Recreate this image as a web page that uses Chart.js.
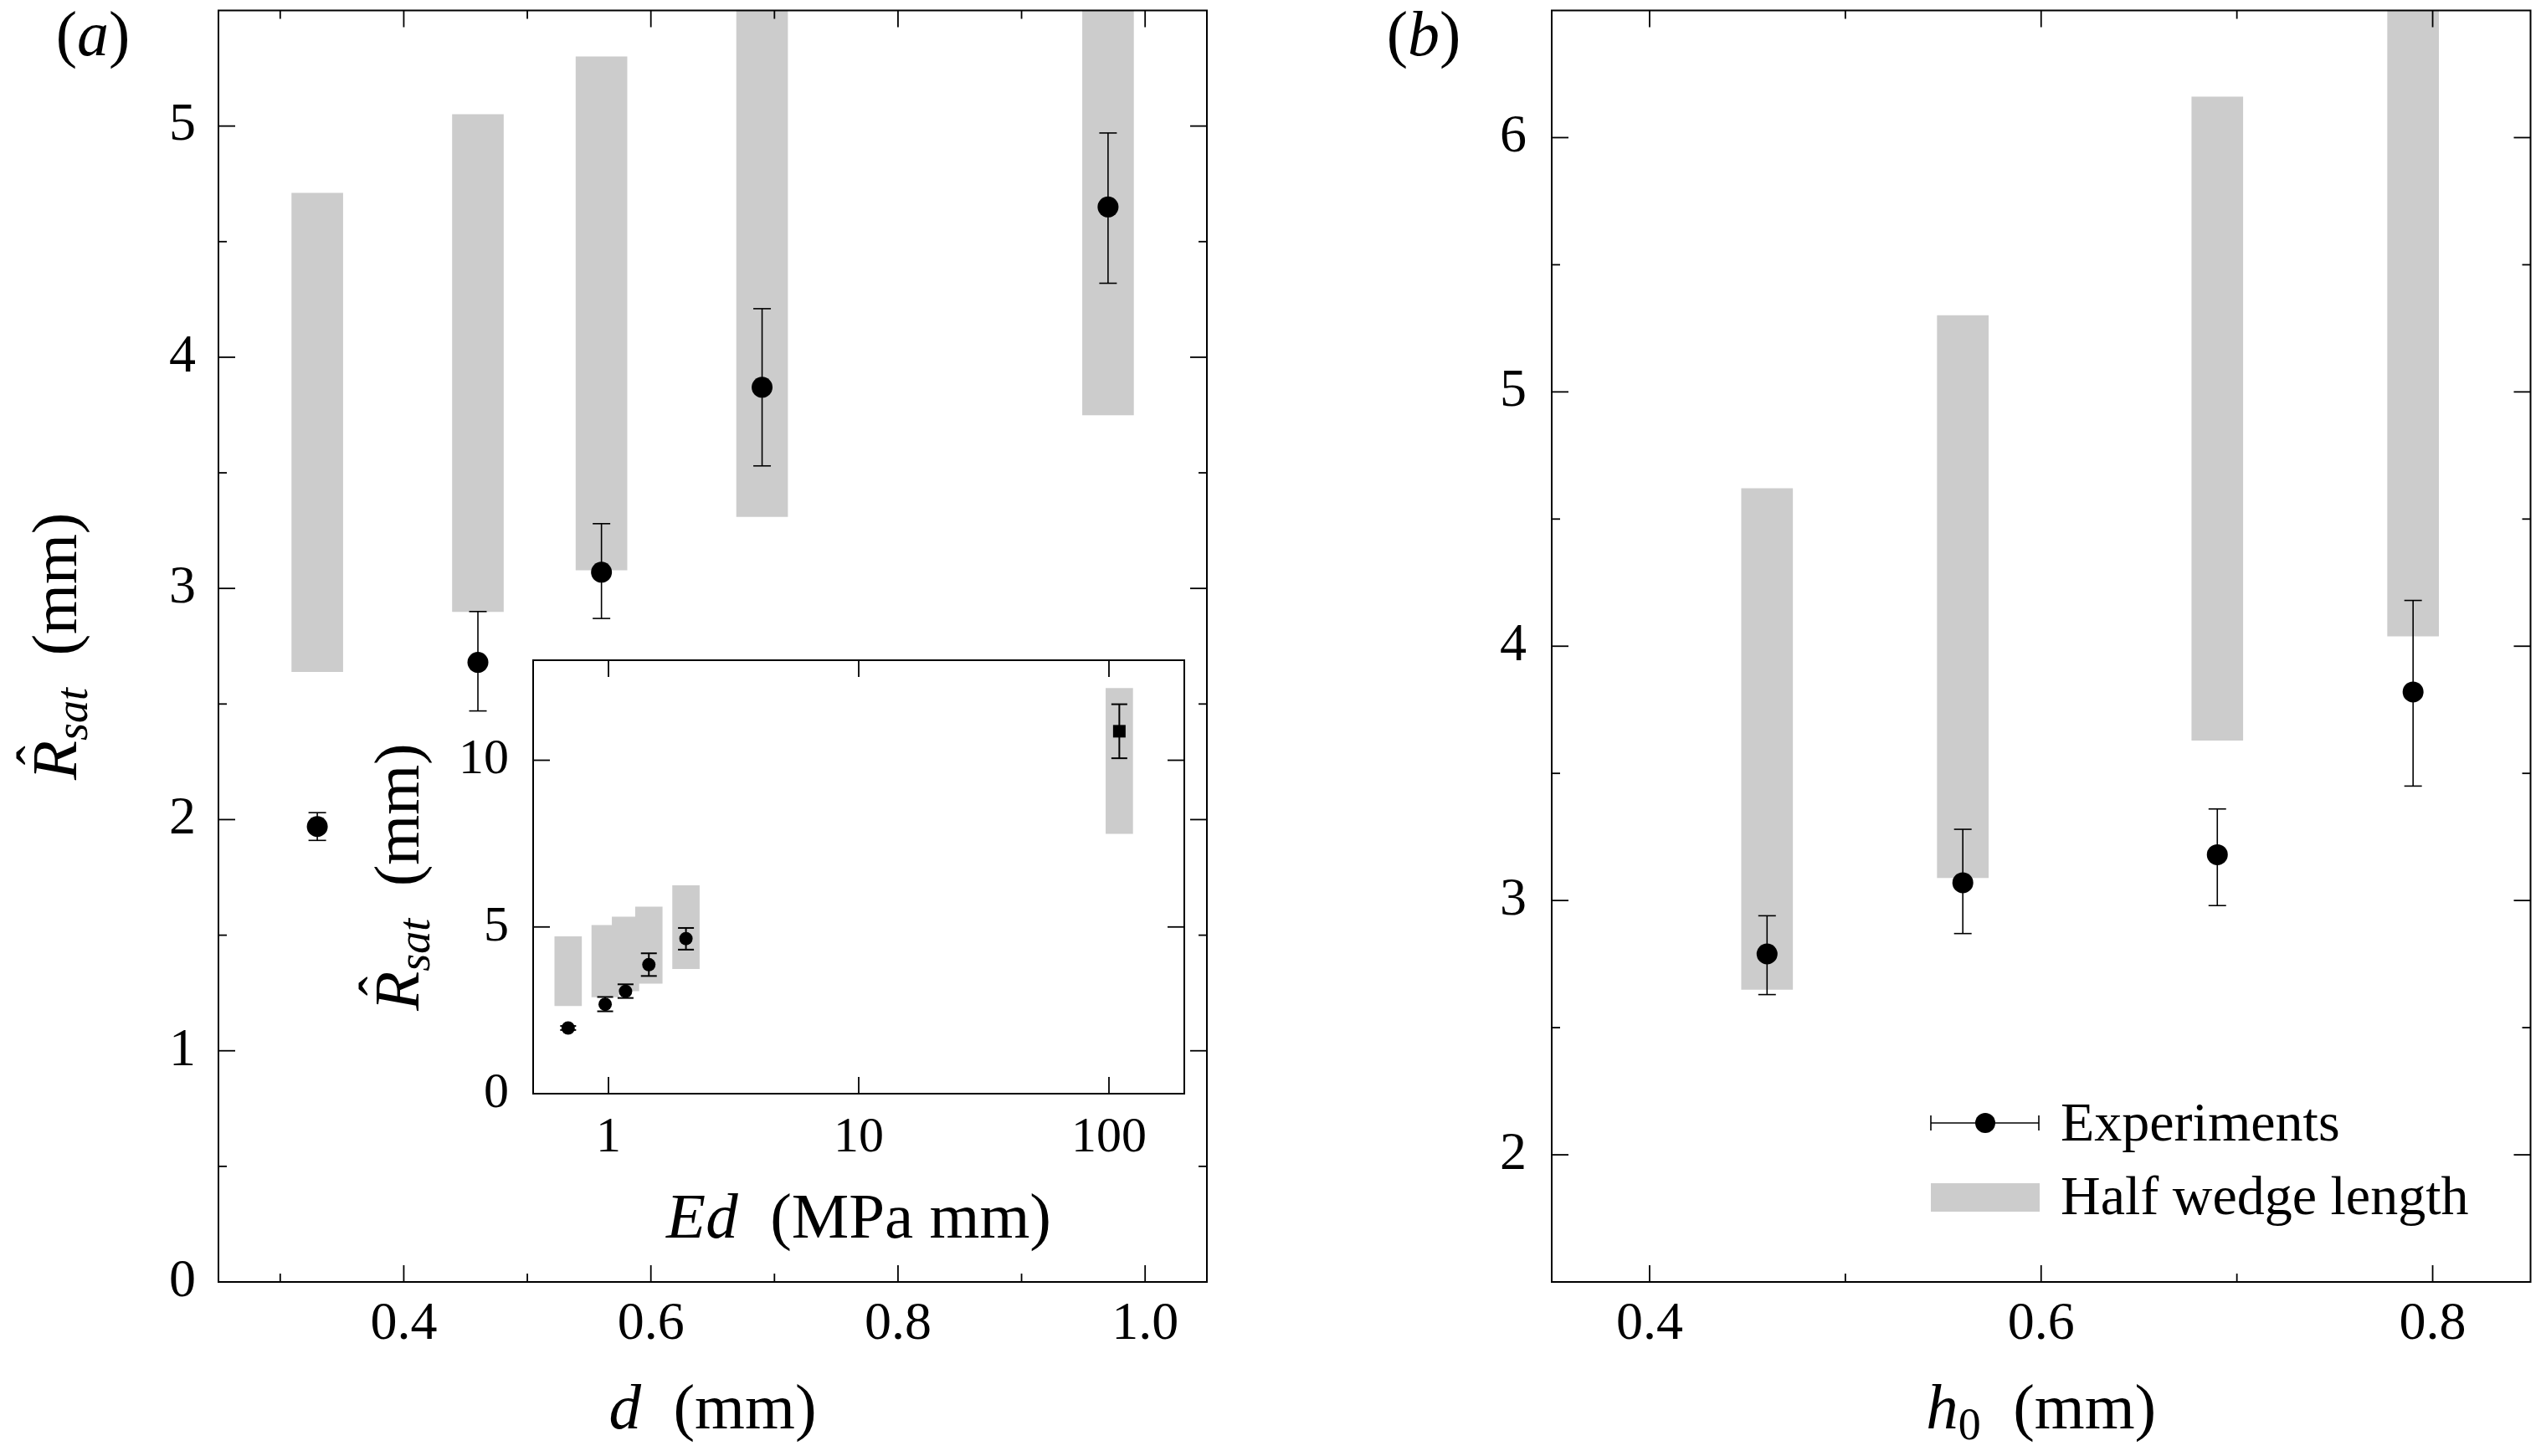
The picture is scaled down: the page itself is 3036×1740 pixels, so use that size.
<!DOCTYPE html>
<html>
<head>
<meta charset="utf-8">
<title>Saturation radius against d and h0</title>
<script src="https://cdn.jsdelivr.net/npm/chart.js@4.4.1/dist/chart.umd.min.js"></script>
<style>
  body { margin: 0; background: #fff; overflow: hidden; }
  #wrap { position: relative; width: 3036px; height: 1740px; background: #fff; }
  canvas { position: absolute; top: 0; }
</style>
</head>
<body>
<div id="wrap">
  <canvas id="chartA" width="1500" height="1740" style="left:0"></canvas>
  <canvas id="chartB" width="1536" height="1740" style="left:1500px"></canvas>
  <canvas id="chartInset" width="1060" height="780" style="left:380px;top:760px"></canvas>
</div>
<script>
// panel (a): R_sat against d
const dValues = [0.33, 0.46, 0.56, 0.69, 0.97];
const rsatA = [1.97, 2.68, 3.07, 3.87, 4.65];
const rsatALow = [1.91, 2.47, 2.87, 3.53, 4.32];
const rsatAHigh = [2.03, 2.90, 3.28, 4.21, 4.97];
const wedgeALow = [2.64, 2.90, 3.08, 3.31, 3.75];
const wedgeAHigh = [4.71, 5.05, 5.30, 5.60, 6.24];

// inset: same data against Ed, plus the stiff sample (square)
const edValues = [0.69, 0.97, 1.17, 1.45, 2.04, 110];
const rsatIn = [1.97, 2.68, 3.07, 3.87, 4.65, 10.87];
const rsatInLow = [1.91, 2.47, 2.87, 3.53, 4.32, 10.06];
const rsatInHigh = [2.03, 2.90, 3.28, 4.21, 4.97, 11.68];
const wedgeInLow = [2.64, 2.90, 3.08, 3.31, 3.75, 7.80];
const wedgeInHigh = [4.71, 5.05, 5.30, 5.60, 6.24, 12.16];

// panel (b): R_sat against h0
const h0Values = [0.46, 0.56, 0.69, 0.79];
const rsatB = [2.79, 3.07, 3.18, 3.82];
const rsatBLow = [2.63, 2.87, 2.98, 3.45];
const rsatBHigh = [2.94, 3.28, 3.36, 4.18];
const wedgeBLow = [2.65, 3.09, 3.63, 4.04];
const wedgeBHigh = [4.62, 5.30, 6.16, 6.90];

// ticks (major ones get a label)
const aXMajor = [0.4, 0.6, 0.8, 1.0];
const aXMinor = [0.3, 0.5, 0.7, 0.9];
const aYMajor = [0, 1, 2, 3, 4, 5];
const aYMinor = [0.5, 1.5, 2.5, 3.5, 4.5];
const inXMajor = [1, 10, 100];
const inYMajor = [0, 5, 10];
const bXMajor = [0.4, 0.6, 0.8];
const bXMinor = [0.5, 0.7];
const bYMajor = [2, 3, 4, 5, 6];
const bYMinor = [2.5, 3.5, 4.5, 5.5];

const SERIF = '"Liberation Serif", "Times New Roman", serif';
const GREY = '#cccccc';

function segFont(s, size) {
  return (s.it ? 'italic ' : '') + (s.sub ? size * 0.7 : size) + 'px ' + SERIF;
}

// draws mixed italic / subscript text centred on x, baseline y
function drawRich(ctx, segs, x, y, size, rot) {
  ctx.save();
  ctx.translate(x, y);
  if (rot) ctx.rotate(rot);
  ctx.fillStyle = '#000';
  ctx.textBaseline = 'alphabetic';
  ctx.textAlign = 'left';
  const widths = segs.map(s => { ctx.font = segFont(s, size); return ctx.measureText(s.t).width; });
  let cx = -widths.reduce((p, q) => p + q, 0) / 2;
  segs.forEach((s, i) => {
    ctx.font = segFont(s, size);
    ctx.fillText(s.t, cx, s.sub ? size * 0.17 : 0);
    if (s.hat) {
      ctx.font = (size * 0.9) + 'px ' + SERIF;
      ctx.textAlign = 'center';
      ctx.fillText('\u02C6', cx + widths[i] * 0.62, -size * 0.3);
      ctx.textAlign = 'left';
    }
    cx += widths[i];
  });
  ctx.restore();
}

function line(ctx, x1, y1, x2, y2) {
  ctx.beginPath();
  ctx.moveTo(x1, y1);
  ctx.lineTo(x2, y2);
  ctx.stroke();
}

function axis(type, min, max, major, minor, fmt, o) {
  return {
    type, min, max,
    offset: false,
    grid: { display: false, drawTicks: false, offset: false },
    border: { display: false },
    ticks: {
      autoSkip: false,
      maxRotation: 0,
      padding: o.pad,
      color: '#000',
      font: { family: SERIF, size: o.size },
      callback: (v) => major.includes(v) ? fmt(v) : ''
    },
    afterBuildTicks: (s) => {
      s.ticks = major.concat(minor).sort((p, q) => p - q).map(v => ({ value: v }));
    },
    afterFit: (s) => {
      if (o.width) s.width = o.width;
      if (o.height) s.height = o.height;
      // labels may stick out of the plot box, the page has room for them
      s.paddingTop = 0; s.paddingBottom = 0;
      s.paddingLeft = 0; s.paddingRight = 0;
    }
  };
}

// box round the plot with inward ticks on all four sides
function framePlugin(t) {
  return {
    id: 'frame',
    beforeDraw(chart) {
      if (!t.fill) return;
      const a = chart.chartArea;
      chart.ctx.save();
      chart.ctx.fillStyle = t.fill;
      chart.ctx.fillRect(a.left, a.top, a.right - a.left, a.bottom - a.top);
      chart.ctx.restore();
    },
    afterDatasetsDraw(chart) {
      const { ctx, chartArea: a, scales: { x, y } } = chart;
      ctx.save();
      ctx.strokeStyle = '#000';
      ctx.lineWidth = 1.8;
      const xt = (vals, len) => vals.forEach(v => {
        const p = x.getPixelForValue(v);
        line(ctx, p, a.bottom, p, a.bottom - len);
        line(ctx, p, a.top, p, a.top + len);
      });
      const yt = (vals, len) => vals.forEach(v => {
        const p = y.getPixelForValue(v);
        line(ctx, a.left, p, a.left + len, p);
        line(ctx, a.right, p, a.right - len, p);
      });
      xt(t.xMajor, 20); xt(t.xMinor || [], 10);
      yt(t.yMajor, 20); yt(t.yMinor || [], 10);
      ctx.lineWidth = 2;
      ctx.strokeRect(a.left, a.top, a.right - a.left, a.bottom - a.top);
      ctx.restore();
    }
  };
}

function errorPlugin(xs, lows, highs, cap, lw) {
  return {
    id: 'errorbars',
    afterDatasetsDraw(chart) {
      const { ctx, scales: { x, y } } = chart;
      ctx.save();
      ctx.strokeStyle = '#000';
      ctx.lineWidth = lw;
      xs.forEach((v, i) => {
        const px = x.getPixelForValue(v);
        const lo = y.getPixelForValue(lows[i]);
        const hi = y.getPixelForValue(highs[i]);
        line(ctx, px, lo, px, hi);
        line(ctx, px - cap, lo, px + cap, lo);
        line(ctx, px - cap, hi, px + cap, hi);
      });
      ctx.restore();
    }
  };
}

function textPlugin(fn) {
  return { id: 'texts', afterDraw(chart) { fn(chart.ctx, chart.chartArea); } };
}

function datasets(xs, ys, lows, highs, thick, radius, styles) {
  return [
    {
      type: 'scatter',
      order: 1,
      data: xs.map((x, i) => ({ x, y: ys[i] })),
      backgroundColor: '#000',
      borderWidth: 0,
      pointRadius: radius,
      pointStyle: styles || 'circle'
    },
    {
      type: 'bar',
      order: 2,
      data: xs.map((x, i) => ({ x, y: [lows[i], highs[i]] })),
      backgroundColor: GREY,
      borderWidth: 0,
      borderSkipped: false,
      barThickness: thick,
      clip: 0
    }
  ];
}

const common = {
  responsive: false,
  animation: false,
  events: [],
  plugins: { legend: { display: false }, tooltip: { enabled: false } }
};

const rsatTitle = [{ t: 'R', it: 1, hat: 1 }, { t: 'sat', it: 1, sub: 1 }, { t: '  (mm)' }];
const oneDec = (v) => v.toFixed(1);

// ---- panel (a)
new Chart(document.getElementById('chartA'), {
  type: 'bar',
  data: { datasets: datasets(dValues, rsatA, wedgeALow, wedgeAHigh, 61, 12.5) },
  options: {
    ...common,
    layout: { padding: { top: 12, right: 58, left: 0, bottom: 0 } },
    scales: {
      x: axis('linear', 0.25, 1.05, aXMajor, aXMinor, oneDec, { pad: 13, size: 64, height: 208 }),
      y: axis('linear', 0, 5.5, aYMajor, aYMinor, String, { pad: 27, size: 64, width: 261 })
    }
  },
  plugins: [
    framePlugin({ xMajor: aXMajor, xMinor: aXMinor, yMajor: aYMajor, yMinor: aYMinor }),
    errorPlugin(dValues, rsatALow, rsatAHigh, 10.5, 1.6),
    textPlugin((ctx, a) => {
      drawRich(ctx, [{ t: 'd', it: 1 }, { t: '  (mm)' }], (a.left + a.right) / 2, a.bottom + 175, 77);
      drawRich(ctx, rsatTitle, a.left - 170, (a.top + a.bottom) / 2, 77, -Math.PI / 2);
      drawRich(ctx, [{ t: '(' }, { t: 'a', it: 1 }, { t: ')' }], 111, 66, 76);
    })
  ]
});

// ---- inset of panel (a), log axis
new Chart(document.getElementById('chartInset'), {
  type: 'bar',
  data: {
    datasets: datasets(edValues, rsatIn, wedgeInLow, wedgeInHigh, 32,
      [8, 8, 8, 8, 8, 10.6], ['circle', 'circle', 'circle', 'circle', 'circle', 'rect'])
  },
  options: {
    ...common,
    layout: { padding: { top: 29, right: 25, left: 0, bottom: 0 } },
    scales: {
      x: axis('logarithmic', 0.5, 200, inXMajor, [], String, { pad: 17, size: 60, height: 233 }),
      y: axis('linear', 0, 13, inYMajor, [], String, { pad: 29, size: 60, width: 257 })
    }
  },
  plugins: [
    framePlugin({ xMajor: inXMajor, yMajor: inYMajor, fill: '#fff' }),
    errorPlugin(edValues, rsatInLow, rsatInHigh, 9.5, 2),
    textPlugin((ctx, a) => {
      drawRich(ctx, [{ t: 'Ed', it: 1 }, { t: '  (MPa mm)' }], (a.left + a.right) / 2, a.bottom + 172, 77);
      drawRich(ctx, rsatTitle, a.left - 137, (a.top + a.bottom) / 2, 77, -Math.PI / 2);
    })
  ]
});

// ---- panel (b)
new Chart(document.getElementById('chartB'), {
  type: 'bar',
  data: { datasets: datasets(h0Values, rsatB, wedgeBLow, wedgeBHigh, 61, 12.5) },
  options: {
    ...common,
    layout: { padding: { top: 12, right: 2, left: 0, bottom: 0 } },
    scales: {
      x: axis('linear', 0.35, 0.85, bXMajor, bXMinor, oneDec, { pad: 13, size: 64, height: 208 }),
      y: axis('linear', 1.5, 6.5, bYMajor, bYMinor, String, { pad: 30, size: 64, width: 354 })
    }
  },
  plugins: [
    framePlugin({ xMajor: bXMajor, xMinor: bXMinor, yMajor: bYMajor, yMinor: bYMinor }),
    errorPlugin(h0Values, rsatBLow, rsatBHigh, 10.5, 1.6),
    textPlugin((ctx, a) => {
      drawRich(ctx, [{ t: 'h', it: 1 }, { t: '0', sub: 1 }, { t: '  (mm)' }], (a.left + a.right) / 2, a.bottom + 175, 77);
      drawRich(ctx, [{ t: '(' }, { t: 'b', it: 1 }, { t: ')' }], 201, 66, 76);

      // legend
      ctx.save();
      ctx.strokeStyle = '#000';
      ctx.lineWidth = 1.6;
      line(ctx, 807, 1342, 936, 1342);
      line(ctx, 807, 1333, 807, 1351);
      line(ctx, 936, 1333, 936, 1351);
      ctx.fillStyle = '#000';
      ctx.beginPath();
      ctx.arc(872, 1342, 12, 0, Math.PI * 2);
      ctx.fill();
      ctx.fillStyle = GREY;
      ctx.fillRect(807, 1414, 130, 34);
      ctx.fillStyle = '#000';
      ctx.font = '66px ' + SERIF;
      ctx.textAlign = 'left';
      ctx.textBaseline = 'alphabetic';
      ctx.fillText('Experiments', 962, 1363);
      ctx.fillText('Half wedge length', 962, 1451);
      ctx.restore();
    })
  ]
});
</script>
</body>
</html>
